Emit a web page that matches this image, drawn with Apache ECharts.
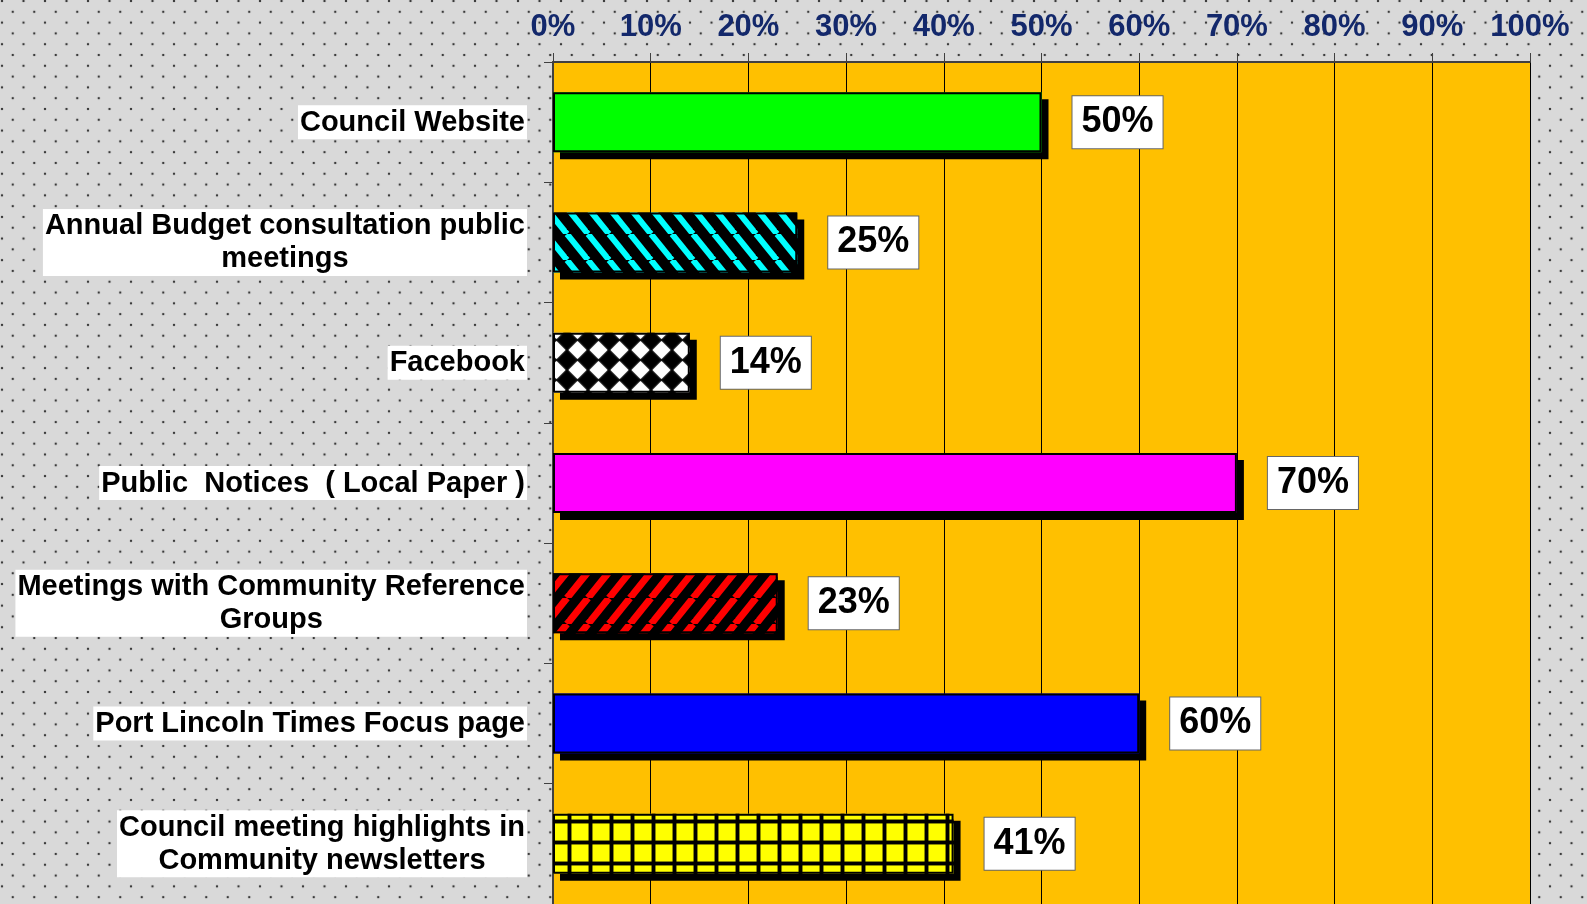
<!DOCTYPE html>
<html>
<head>
<meta charset="utf-8">
<script src="https://cdn.jsdelivr.net/npm/echarts@6/dist/echarts.min.js"></script>
<style>
html,body{margin:0;padding:0;}
#chart{width:1587px;height:904px;background-color:#d9d9d9;
background-image:radial-gradient(circle, #3a3a3a 0px, #3a3a3a 1px, rgba(0,0,0,0) 1.6px),radial-gradient(circle, #3a3a3a 0px, #3a3a3a 1px, rgba(0,0,0,0) 1.6px);
background-size:21.5px 21.6px,21.5px 21.6px;background-position:2px 1px,12.75px 11.8px;}
</style>
</head>
<body>
<div id="chart"></div>
<script>
const categories = [
  "Council Website",
  "Annual Budget consultation public\nmeetings",
  "Facebook",
  "Public  Notices  ( Local Paper )",
  "Meetings with Community Reference\nGroups",
  "Port Lincoln Times Focus page",
  "Council meeting highlights in\nCommunity newsletters"
];
const values = [50, 25, 14, 70, 23, 60, 41];
const tickMin = 0, tickMax = 100, tickStep = 10;

function tile(w, h, draw) {
  const c = document.createElement('canvas');
  c.width = w; c.height = h;
  draw(c.getContext('2d'), w, h);
  return { image: c, repeat: 'repeat' };
}
function stripes(bg, fg, w, h, lw, down) {
  return tile(w, h, (g) => {
    g.fillStyle = bg; g.fillRect(0, 0, w, h);
    g.strokeStyle = fg; g.lineWidth = lw;
    for (let k = -1; k <= 1; k++) {
      g.beginPath();
      if (down) { g.moveTo(k * w, 0); g.lineTo(k * w + w, h); }
      else { g.moveTo(k * w + w, 0); g.lineTo(k * w, h); }
      g.stroke();
    }
  });
}
const diamonds = tile(21, 20, (g, w, h) => {
  g.fillStyle = '#000'; g.fillRect(0, 0, w, h);
  g.fillStyle = '#fff';
  g.shadowColor = 'rgba(255,255,255,0.7)'; g.shadowBlur = 2;
  const r = 9;
  g.beginPath();
  g.moveTo(w / 2, h / 2 - r); g.lineTo(w / 2 + r, h / 2); g.lineTo(w / 2, h / 2 + r); g.lineTo(w / 2 - r, h / 2);
  g.closePath(); g.fill();
});
const gridTile = tile(21, 21, (g, w, h) => {
  g.fillStyle = '#ffff00'; g.fillRect(0, 0, w, h);
  g.fillStyle = 'rgba(0,0,0,0.45)';
  g.fillRect(0, 0, 5, h); g.fillRect(0, 0, w, 5);
  g.fillStyle = '#000';
  g.fillRect(1, 0, 3, h); g.fillRect(0, 1, w, 3);
});
const fills = [
  '#00ff00',
  stripes('#000', '#00ffff', 21, 26, 6, true),
  diamonds,
  '#ff00ff',
  stripes('#000', '#ff0000', 21, 26, 7, false),
  '#0000ff',
  gridTile
];

const FONT = 'Liberation Sans, Arial, sans-serif';
const chart = echarts.init(document.getElementById('chart'), null, { renderer: 'canvas' });
chart.setOption({
  animation: false,
  backgroundColor: 'transparent',
  grid: { left: 553, top: 62, width: 977, height: 847, show: true, backgroundColor: '#ffc000', borderWidth: 0, containLabel: false },
  xAxis: {
    type: 'value', position: 'top', min: tickMin, max: tickMax, interval: tickStep,
    axisLine: { show: true, lineStyle: { color: '#404040', width: 2 } },
    axisTick: { show: true, length: 9, lineStyle: { color: '#404040', width: 1 } },
    splitLine: { show: true, lineStyle: { color: '#000', width: 1 } },
    axisLabel: { formatter: '{value}%', fontFamily: FONT, fontWeight: 'bold', fontSize: 31, color: '#13286b', margin: 19 }
  },
  yAxis: {
    type: 'category', inverse: true, data: categories,
    axisLine: { show: true, lineStyle: { color: '#404040', width: 2 } },
    axisTick: { show: true, length: 9, lineStyle: { color: '#404040', width: 1 } },
    axisLabel: {
      margin: 26, align: 'right',
      backgroundColor: '#fff', padding: [1, 2, 0, 2],
      formatter: (v) => v.split('\n').map(s => '{c|' + s + '}').join('\n'),
      rich: { c: { align: 'center', fontFamily: FONT, fontWeight: 'bold', fontSize: 29, lineHeight: 33, color: '#000' } }
    }
  },
  series: [{
    type: 'bar', barWidth: 60,
    data: values.map((v, i) => ({ value: v, itemStyle: { color: fills[i] } })),
    itemStyle: { borderWidth: 0, shadowColor: '#000', shadowBlur: 0, shadowOffsetX: 7, shadowOffsetY: 7 },
    label: {
      show: true, position: 'right', distance: 31, formatter: '{c}%',
      fontFamily: FONT, fontWeight: 'bold', fontSize: 36, lineHeight: 41, color: '#000',
      backgroundColor: '#fff', borderColor: '#666', borderWidth: 1, padding: [6, 9, 5, 9]
    }
  }, {
    type: 'bar', barWidth: 60, barGap: '-100%', silent: true,
    data: values,
    itemStyle: { color: 'rgba(0,0,0,0)', borderColor: '#000', borderWidth: 2 },
    label: { show: false }
  }]
});
</script>
</body>
</html>
